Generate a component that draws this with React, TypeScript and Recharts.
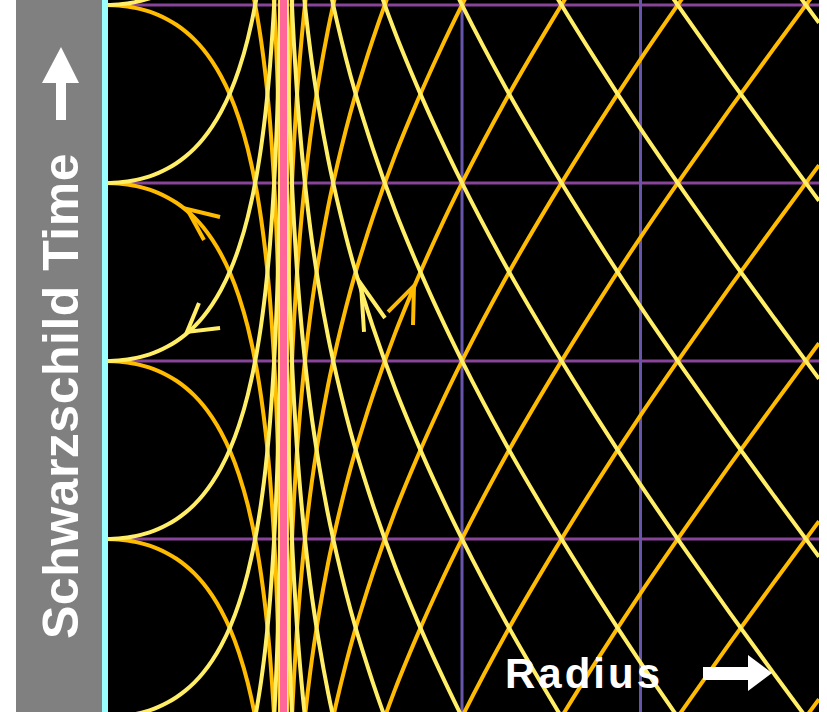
import React from "react";
import { LineChart, Line, XAxis, YAxis } from "recharts";

// Schwarzschild-Koordinaten: Lichtstrahlen (ein-/auslaufend) um ein Schwarzes Loch.
// r in Einheiten von M, Horizont bei r = 2.

const YELLOW = "#FFEE66";
const ORANGE = "#FFBB00";
const PINK = "#FF6699";
const CYAN = "#99FFFF";
const GRID_T = "#884499";
const GRID_R = "#6655AA";

// Verlauf der Lichtlinien innerhalb des Horizonts (r, Versatz in t)
const INSIDE_R = [0, 0.1, 0.2, 0.3, 0.4, 0.5, 0.6, 0.7, 0.8, 0.9, 1.0, 1.1, 1.2, 1.3, 1.4, 1.5, 1.6, 1.7, 1.75, 1.8, 1.85, 1.9, 1.93, 1.95, 1.97, 1.99];
const INSIDE_SHIFT = [0, -0.003, -0.011, -0.025, -0.046, -0.075, -0.113, -0.162, -0.222, -0.296, -0.386, -0.497, -0.633, -0.8, -1.008, -1.273, -1.619, -2.094, -2.409, -2.805, -3.331, -4.091, -4.775, -5.428, -6.43, -8.607];

// ... und außerhalb
const OUTSIDE_R = [2.01, 2.02, 2.03, 2.04, 2.05, 2.06, 2.08, 2.1, 2.12, 2.15, 2.2, 2.25, 2.3, 2.4, 2.5, 2.6, 2.7, 2.8, 2.9, 3, 3.25, 3.5, 3.75, 4, 4.5, 5, 5.5, 6, 6.5, 7, 7.5, 8];
const OUTSIDE_SHIFT = [-8.59, -7.19, -6.37, -5.78, -5.33, -4.95, -4.36, -3.89, -3.51, -3.03, -2.41, -1.91, -1.49, -0.82, -0.27, 0.19, 0.6, 0.97, 1.3, 1.61, 2.31, 2.92, 3.48, 4, 4.95, 5.81, 6.62, 7.39, 8.12, 8.83, 9.52, 10.2];

// Startzeiten der Lichtlinien (alle 2 M)
const LINE_T0 = [-10, -8, -6, -4, -2, 0, 2, 4, 6, 8, 10, 12, 14, 16, 18];

// Gitter
const GRID_TIMES = [0, 2, 4, 6, 8];
const GRID_RADII = [4, 6];

// kleine Pfeilspitzen (r, t)
const ARROWS = [
  { color: ORANGE, pts: [[1.289, 5.618], [0.919, 5.708], [1.109, 5.359]] },
  { color: YELLOW, pts: [[1.053, 4.652], [0.919, 4.326], [1.289, 4.371]] },
  { color: YELLOW, pts: [[3.137, 4.483], [2.868, 4.865], [2.902, 4.326]] },
  { color: ORANGE, pts: [[3.171, 4.551], [3.462, 4.843], [3.451, 4.405]] },
];

const ray = (rs: number[], shift: number[], t0: number, sign: number) =>
  rs.map((r, i) => ({ r, t: t0 + sign * shift[i] }));

export default function App() {
  const orange = LINE_T0.flatMap((c) => [
    ray(INSIDE_R, INSIDE_SHIFT, c, 1),
    ray(OUTSIDE_R, OUTSIDE_SHIFT, c, 1),
  ]);
  const yellow = LINE_T0.flatMap((c) => [
    ray(INSIDE_R, INSIDE_SHIFT, c, -1),
    ray(OUTSIDE_R, OUTSIDE_SHIFT, c, -1),
  ]);
  const common = { dataKey: "t", dot: false, activeDot: false, isAnimationActive: false } as const;

  return (
    <div style={{ position: "absolute", left: 0, top: 0, width: 827, height: 712, background: "#fff", overflow: "hidden" }}>
      <div style={{ position: "absolute", left: 16, top: 0, width: 86, height: 712, background: "#808080" }} />
      <div style={{ position: "absolute", left: 108, top: 0, width: 711, height: 712, background: "#000" }} />
      <div style={{ position: "absolute", left: 0, top: 0 }}>
        <LineChart width={827} height={712} margin={{ top: 0, right: 8, bottom: 0, left: 105 }}>
          <XAxis type="number" dataKey="r" domain={[0, 8]} hide allowDataOverflow />
          <YAxis type="number" domain={[0.056, 8.056]} hide allowDataOverflow />
          {GRID_TIMES.map((t) => (
            <Line key={"gt" + t} {...common} data={[{ r: -1, t }, { r: 9, t }]} stroke={GRID_T} strokeWidth={3} type="linear" />
          ))}
          {GRID_RADII.map((r) => (
            <Line key={"gr" + r} {...common} data={[{ r, t: -1 }, { r, t: 9 }]} stroke={GRID_R} strokeWidth={3} type="linear" />
          ))}
          {orange.map((d, i) => (
            <Line key={"o" + i} {...common} data={d} stroke={ORANGE} strokeWidth={4} type="monotone" />
          ))}
          {yellow.map((d, i) => (
            <Line key={"y" + i} {...common} data={d} stroke={YELLOW} strokeWidth={4} type="monotone" />
          ))}
          <Line {...common} data={[{ r: 2, t: -1 }, { r: 2, t: 9 }]} stroke={PINK} strokeWidth={7} type="linear" />
          {ARROWS.map((a, i) => (
            <Line key={"a" + i} {...common} data={a.pts.map(([r, t]) => ({ r, t }))} stroke={a.color} strokeWidth={4} type="linear" />
          ))}
        </LineChart>
      </div>
      {/* r = 0 */}
      <div style={{ position: "absolute", left: 102, top: 0, width: 6, height: 712, background: CYAN }} />
      <svg width={827} height={712} style={{ position: "absolute", left: 0, top: 0, pointerEvents: "none" }}>
        <path d="M61 47 L79 83 L66 83 L66 120 L56 120 L56 83 L42 83 Z" fill="#fff" />
        <text
          x={78}
          y={396}
          transform="rotate(-90 78 396)"
          textAnchor="middle"
          fill="#fff"
          fontFamily="'Liberation Sans', Arial, sans-serif"
          fontWeight="bold"
          fontSize={50}
          letterSpacing={0.5}
        >
          Schwarzschild Time
        </text>
        <text x={505} y={688} fill="#fff" fontFamily="'Liberation Sans', Arial, sans-serif" fontWeight="bold" fontSize={42} letterSpacing={3}>
          Radius
        </text>
        <path d="M703 667 L748 667 L748 655 L772 673 L748 691 L748 680 L703 680 Z" fill="#fff" />
      </svg>
    </div>
  );
}
